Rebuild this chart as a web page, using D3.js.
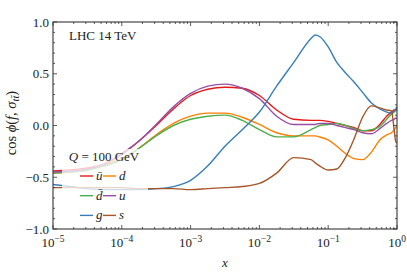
<!DOCTYPE html>
<html>
<head>
<meta charset="utf-8">
<script src="https://cdn.jsdelivr.net/npm/d3@7"></script>
<style>
body{margin:0;background:#fff;}
svg text{font-family:"Liberation Serif",serif;fill:#222;}
</style>
</head>
<body>
<svg id="chart" width="407" height="275"></svg>
<script>
// sample points, log10(x)
const logx=[-5,-4.75,-4.5,-4.25,-4,-3.75,-3.5,-3.25,-3,-2.75,-2.5,-2.25,-2,-1.75,-1.5,-1.25,-1.19,-1.125,-1,-0.875,-0.75,-0.625,-0.5,-0.375,-0.25,-0.15,-0.08,-0.04,-0.02,0]
const ubar=[-0.44,-0.43,-0.41,-0.37,-0.28,-0.15,0.00,0.16,0.29,0.35,0.37,0.36,0.29,0.15,0.06,0.05,0.05,0.05,0.04,0.02,0.00,-0.02,-0.05,-0.05,0.01,0.09,0.13,0.15,0.15,0.15]
const dq=[-0.46,-0.45,-0.43,-0.38,-0.32,-0.22,-0.09,0.02,0.09,0.12,0.12,0.08,0.01,-0.07,-0.10,-0.10,-0.10,-0.11,-0.14,-0.20,-0.27,-0.32,-0.33,-0.26,-0.14,-0.09,-0.07,-0.04,-0.02,0.00]
const dbar=[-0.46,-0.45,-0.43,-0.39,-0.33,-0.22,-0.10,0.00,0.06,0.09,0.10,0.05,-0.04,-0.11,-0.11,-0.04,-0.02,0.00,0.01,0.02,0.00,-0.03,-0.05,-0.04,-0.01,0.06,0.11,0.13,0.14,0.15]
const uq=[-0.45,-0.44,-0.42,-0.37,-0.27,-0.15,0.01,0.18,0.31,0.38,0.40,0.36,0.26,0.09,0.01,0.01,0.01,0.02,0.02,0.00,-0.02,-0.04,-0.07,-0.08,-0.03,0.02,0.05,0.06,0.07,0.07]
const gl=[-0.57,-0.59,-0.61,-0.62,-0.62,-0.62,-0.61,-0.59,-0.53,-0.39,-0.20,-0.04,0.13,0.38,0.61,0.84,0.875,0.86,0.76,0.61,0.51,0.42,0.32,0.22,0.16,0.13,0.12,0.14,0.16,0.18]
const sq=[-0.60,-0.60,-0.60,-0.60,-0.60,-0.61,-0.61,-0.61,-0.62,-0.61,-0.60,-0.59,-0.56,-0.46,-0.31,-0.33,-0.36,-0.39,-0.43,-0.42,-0.31,-0.13,0.08,0.19,0.17,0.15,0.14,-0.05,-0.15,-0.17]

const names=["ū","d","d̄","u","g","s"]
const colors=["#e41a1c","#ff7f00","#4daf4a","#984ea3","#377eb8","#a65628"]
const series=[ubar,dq,dbar,uq,gl,sq]

const yTicks=[-1.0,-0.5,0.0,0.5,1.0]
const xTicks=[-5,-4,-3,-2,-1,0]

let svg=d3.select("#chart")
let margin={left:53,right:10,top:22,bottom:46}
let W=407,H=275
let xs=logx.map(e=>Math.pow(10,e))

let x=d3.scaleLog().domain([1e-5,1]).range([margin.left,W-margin.right])
let y=d3.scaleLinear().domain([-1,1]).range([H-margin.bottom,margin.top])

svg.append("clipPath").attr("id","clip")
	.append("rect").attr("x",margin.left).attr("y",margin.top)
	.attr("width",W-margin.left-margin.right).attr("height",H-margin.top-margin.bottom)

let line=d3.line()
	.x((d,i)=>x(xs[i]))
	.y(d=>y(d))
	.curve(d3.curveMonotoneX)

let plot=svg.append("g").attr("clip-path","url(#clip)")
series.forEach((s,k)=>{
	plot.append("path")
		.attr("d",line(s))
		.attr("fill","none")
		.attr("stroke",colors[k])
		.attr("stroke-width",1.4)
})

// minor ticks
let minorX=[]
for(let e=-5;e<0;e++) for(let m=2;m<10;m++) minorX.push(m*Math.pow(10,e))
let minorY=d3.range(-10,11).map(v=>v/10)

let tk=svg.append("g").attr("stroke","#333").attr("stroke-width",0.8)
let y0=y(-1),y1=y(1),x0=x(1e-5),x1=x(1)
minorX.forEach(v=>{
	tk.append("line").attr("x1",x(v)).attr("x2",x(v)).attr("y1",y0).attr("y2",y0-2)
	tk.append("line").attr("x1",x(v)).attr("x2",x(v)).attr("y1",y1).attr("y2",y1+2)
})
xTicks.forEach(e=>{
	let v=x(Math.pow(10,e))
	tk.append("line").attr("x1",v).attr("x2",v).attr("y1",y0).attr("y2",y0-4)
	tk.append("line").attr("x1",v).attr("x2",v).attr("y1",y1).attr("y2",y1+4)
})
minorY.forEach(v=>{
	let len=yTicks.includes(v)?4:2
	tk.append("line").attr("x1",x0).attr("x2",x0+len).attr("y1",y(v)).attr("y2",y(v))
	tk.append("line").attr("x1",x1).attr("x2",x1-len).attr("y1",y(v)).attr("y2",y(v))
})

svg.append("rect")
	.attr("x",x0).attr("y",y1).attr("width",x1-x0).attr("height",y0-y1)
	.attr("fill","none").attr("stroke","#333").attr("stroke-width",1.1)

// tick labels
yTicks.forEach(v=>{
	svg.append("text")
		.attr("x",x0-4).attr("y",y(v)+4.5)
		.attr("text-anchor","end").attr("font-size",13)
		.text(d3.format(".1f")(v).replace("-","−"))
})
xTicks.forEach(e=>{
	let t=svg.append("text")
		.attr("x",x(Math.pow(10,e))).attr("y",247)
		.attr("text-anchor","middle").attr("font-size",13)
	t.append("tspan").text("10")
	t.append("tspan").attr("dy",-5.5).attr("font-size",9.5).text(e==0?"0":"−"+(-e))
})

svg.append("text").attr("x",225).attr("y",267)
	.attr("text-anchor","middle").attr("font-size",13).attr("font-style","italic").text("x")

let yl=svg.append("text")
	.attr("transform","translate(16,123) rotate(-90)")
	.attr("text-anchor","middle").attr("font-size",14.5)
yl.append("tspan").text("cos ")
yl.append("tspan").attr("font-style","italic").text("ϕ")
yl.append("tspan").text("(")
yl.append("tspan").attr("font-style","italic").text("f")
yl.append("tspan").text(", ")
yl.append("tspan").attr("font-style","italic").text("σ")
yl.append("tspan").attr("font-style","italic").attr("font-size",10.5).attr("dy",3).text("tt̄")
yl.append("tspan").attr("dy",-3).text(")")

svg.append("text").attr("x",69).attr("y",40).attr("font-size",13).text("LHC 14 TeV")

// legend
let lg=svg.append("g")
lg.append("rect").attr("x",62).attr("y",149).attr("width",86).attr("height",75)
	.attr("fill","white").attr("opacity",0.75)
let tt=lg.append("text").attr("x",104).attr("y",161).attr("text-anchor","middle").attr("font-size",13)
tt.append("tspan").attr("font-style","italic").text("Q")
tt.append("tspan").text(" = 100 GeV")

names.forEach((n,k)=>{
	let col=k%2,row=Math.floor(k/2)
	let hx=col==0?80:103
	let hy=176+row*19.7
	lg.append("line").attr("x1",hx).attr("x2",hx+13).attr("y1",hy).attr("y2",hy)
		.attr("stroke",colors[k]).attr("stroke-width",1.4)
	lg.append("text").attr("x",hx+16).attr("y",hy+4)
		.attr("font-size",13).attr("font-style","italic").text(n)
})
</script>
</body>
</html>
